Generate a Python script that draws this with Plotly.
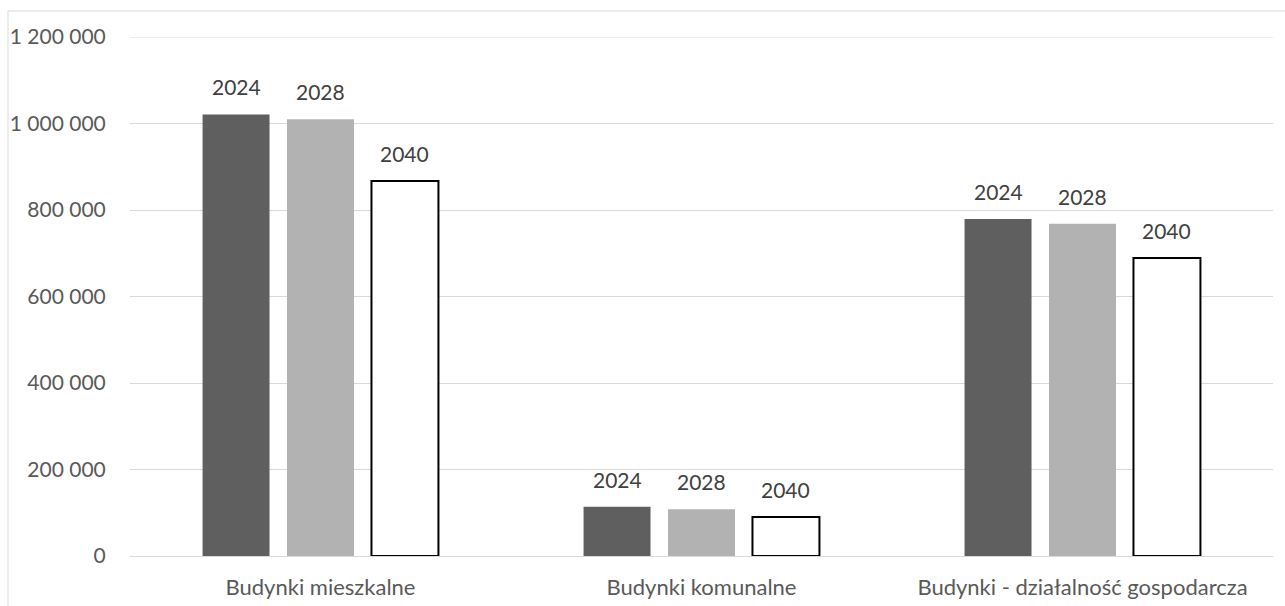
import plotly.graph_objects as go

# Categories and series values
categories = ["Budynki mieszkalne", "Budynki komunalne", "Budynki - działalność gospodarcza"]
years = ["2024", "2028", "2040"]
values_2024 = [1021000, 114000, 779000]
values_2028 = [1010000, 108000, 768000]
values_2040 = [867000, 90000, 689000]
y_ticks = [0, 200000, 400000, 600000, 800000, 1000000, 1200000]
y_tick_labels = ["0", "200 000", "400 000", "600 000", "800 000", "1 000 000", "1 200 000"]

series = [values_2024, values_2028, values_2040]
fills = ["#5f5f5f", "#b2b2b2", "#ffffff"]
outlines = ["#5f5f5f", "#b2b2b2", "#000000"]
outline_w = [0, 0, 2]

FONT = "Lato"
W, H = 1285, 606
ML, MR, MT, MB = 130, 12, 37, 50
BARGAP, GROUPGAP = 0.335, 0.207
GRID = "#d9d9d9"

fig = go.Figure()
for name, vals, fc, lc, lw in zip(years, series, fills, outlines, outline_w):
    fig.add_trace(go.Bar(
        x=categories, y=vals, name=name,
        marker=dict(color=fc, line=dict(color=lc, width=lw)),
        showlegend=False,
    ))

# Series labels above each bar
plot_w = W - ML - MR
slot = plot_w / len(categories) * (1 - BARGAP) / 3
for i, (name, vals) in enumerate(zip(years, series)):
    for cat, v in zip(categories, vals):
        fig.add_annotation(
            x=cat, y=v, xref="x", yref="y", text=name, showarrow=False,
            xshift=(i - 1) * slot, yshift=13, yanchor="bottom",
            font=dict(family=FONT, size=21, color="#404040"),
        )

# Top gridline at the end of the value range
fig.add_shape(
    type="line", xref="paper", yref="y", x0=0, x1=1,
    y0=y_ticks[-1], y1=y_ticks[-1],
    line=dict(color=GRID, width=1), layer="below",
)

# Outer chart frame
fig.add_shape(
    type="rect", xref="paper", yref="paper",
    x0=(8 - ML) / plot_w, x1=(W + 20 - ML) / plot_w,
    y0=-(MB + 20) / (H - MT - MB), y1=(H - MB - 11) / (H - MT - MB),
    line=dict(color=GRID, width=1), fillcolor="rgba(0,0,0,0)", layer="below",
)

fig.update_layout(
    width=W, height=H,
    margin=dict(l=ML, r=MR, t=MT, b=MB),
    paper_bgcolor="white", plot_bgcolor="white",
    barmode="group", bargap=BARGAP, bargroupgap=GROUPGAP,
    font=dict(family=FONT, size=21, color="#595959"),
)
fig.update_xaxes(
    automargin=False,
    showgrid=False, showline=False, zeroline=False,
    ticks="outside", ticklen=0, tickcolor="rgba(0,0,0,0)",
    ticklabelstandoff=12,
    tickfont=dict(family=FONT, size=22, color="#595959"),
)
fig.update_yaxes(
    automargin=False,
    range=[0, y_ticks[-1]], tickvals=y_ticks, ticktext=y_tick_labels,
    showgrid=True, gridcolor=GRID, gridwidth=1,
    zeroline=True, zerolinecolor=GRID, zerolinewidth=1,
    showline=False, ticks="outside", ticklen=0, tickcolor="rgba(0,0,0,0)",
    ticklabelstandoff=19,
    tickfont=dict(family=FONT, size=21, color="#595959"),
)

fig.write_html("out.html")
